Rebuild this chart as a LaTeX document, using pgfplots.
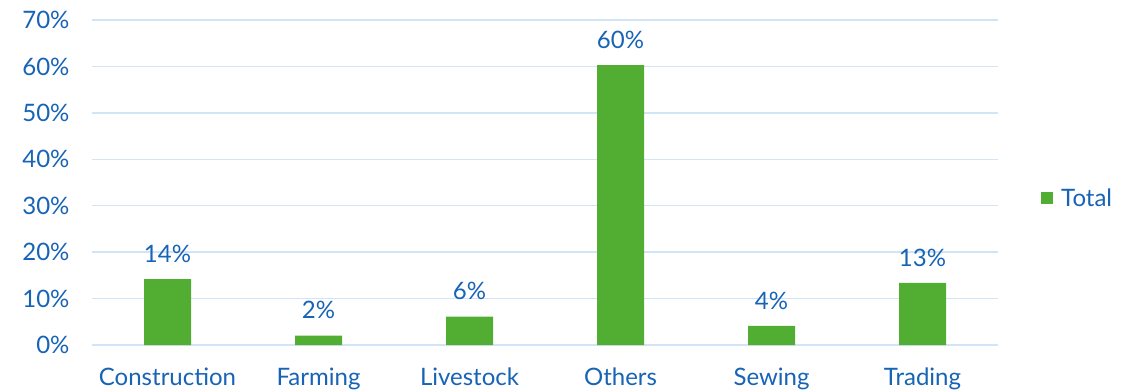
\documentclass[border=0pt]{standalone}
\usepackage{pgfplots}
\pgfplotsset{compat=1.18}
\usepackage{fontspec}
\setmainfont{Lato}
\definecolor{txtblue}{HTML}{1763B5}
\definecolor{bargreen}{HTML}{52AE32}
\definecolor{gridblue}{HTML}{D2E5F7}
\begin{document}
\begin{tikzpicture}[x=1bp,y=1bp]
\useasboundingbox (0,0) rectangle (1132,391);
\begin{axis}[
  at={(92bp,46bp)}, anchor=south west,
  scale only axis, width=906bp, height=325bp,
  xmin=-0.5, xmax=5.5, ymin=0, ymax=70,
  axis line style={draw=none},
  xtick=data,
  xticklabels={Construction,Farming,Livestock,Others,Sewing,Trading},
  ytick={0,10,...,70},
  yticklabel={\pgfmathprintnumber{\tick}\%},
  /pgf/number format/assume math mode=true,
  ymajorgrids, grid style={gridblue, line width=1.5bp},
  major tick length=0pt,
  tick label style={font=\fontsize{24bp}{28bp}\selectfont, text=txtblue},
  yticklabel style={xshift=-19bp},
  xticklabel style={yshift=-19bp},
  ybar, bar width=47bp,
  nodes near coords={\pgfmathprintnumber[fixed,precision=0]{\pgfplotspointmeta}\%},
  nodes near coords style={font=\fontsize{24bp}{28bp}\selectfont, text=txtblue, yshift=13bp},
  legend style={at={(1.0475,0.452)}, anchor=west, draw=none, fill=none,
     font=\fontsize{24bp}{28bp}\selectfont, text=txtblue, inner sep=0pt},
  legend image code/.code={\fill[bargreen] (0bp,-6bp) rectangle (12bp,6bp); \path (18bp,0bp);},
]
\addplot[fill=bargreen, draw=none] coordinates {(0,14.2) (1,2.0) (2,6.1) (3,60.3) (4,4.1) (5,13.4)};
\addlegendentry{Total}
\end{axis}
\end{tikzpicture}
\end{document}
